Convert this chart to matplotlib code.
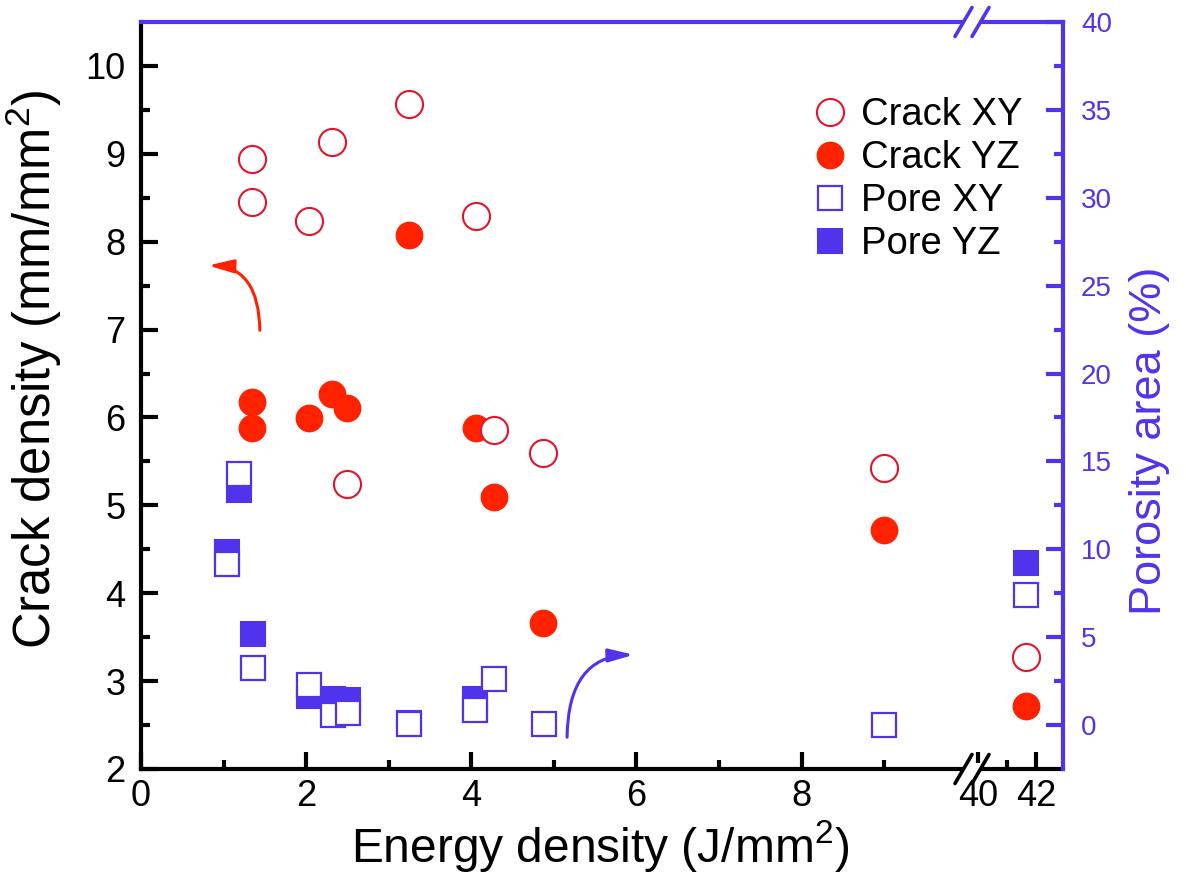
import numpy as np
import matplotlib
matplotlib.use('Agg')
import matplotlib.pyplot as plt
from matplotlib.lines import Line2D
from matplotlib.patches import FancyArrowPatch, Rectangle
from matplotlib.ticker import FixedLocator

plt.rcParams['font.family'] = ['Liberation Sans', 'DejaVu Sans']
plt.rcParams['mathtext.fontset'] = 'custom'
plt.rcParams['mathtext.rm'] = 'Liberation Sans'

RED = '#ff2200'
RED_EDGE = '#e3142a'
BLUE = '#5034ec'

# crack density (left axis, mm/mm^2)
crack_x = [1.35, 1.35, 2.03, 2.31, 2.50, 3.25, 4.06, 4.27, 4.87, 9.0, 41.67]
crack_xy = [8.94, 8.45, 8.23, 9.13, 5.24, 9.57, 8.29, 5.86, 5.60, 5.43, 3.27]
crack_yz = [6.18, 5.88, 5.99, 6.27, 6.11, 8.08, 5.88, 5.10, 3.66, 4.72, 2.72]

# porosity area (right axis, %)
pore_xy_x = [1.04, 1.19, 1.36, 2.03, 2.32, 2.51, 3.24, 4.05, 4.27, 4.88, 9.0, 41.67]
pore_xy = [9.16, 14.3, 3.26, 2.26, 0.55, 0.70, 0.05, 0.84, 2.64, 0.06, 0.0, 7.4]
pore_yz_x = [1.04, 1.19, 1.36, 2.03, 2.32, 2.51, 3.24, 4.05, 41.67]
pore_yz = [9.86, 13.35, 5.16, 1.66, 1.48, 1.42, 0.13, 1.48, 9.2]

# broken x axis: 0..B1 normal, B2.. compressed
B1, B2, R = 10.07, 39.81, 29 / 82.5


def fwd(x):
    x = np.asarray(x, dtype=float)
    return np.where(x <= B1, x, np.where(x >= B2, B1 + (x - B2) * R, B1))


def inv(y):
    y = np.asarray(y, dtype=float)
    return np.where(y <= B1, y, B2 + (y - B1) / R)


fig = plt.figure(figsize=(11.86, 8.81), dpi=100)
ax = fig.add_axes([141 / 1186, 1 - 769 / 881, 922 / 1186, 747 / 881])
ax.set_xscale('function', functions=(fwd, inv))
ax.set_xlim(0, 42.93)
ax.set_ylim(2, 10.5)
ax2 = ax.twinx()
ax2.set_ylim(-2.5, 40)

ax.plot(crack_x, crack_yz, 'o', ms=20, mfc=RED, mec=RED, mew=0, zorder=3,
        label='Crack YZ')
ax.plot(crack_x, crack_xy, 'o', ms=19.5, mfc='white', mec=RED_EDGE, mew=1.5,
        zorder=4, label='Crack XY')
ax2.plot(pore_yz_x, pore_yz, 's', ms=17.5, mfc=BLUE, mec=BLUE, mew=1.5,
         zorder=3, label='Pore YZ')
ax2.plot(pore_xy_x, pore_xy, 's', ms=17, mfc='white', mec=BLUE, mew=1.6,
         zorder=4, label='Pore XY')

# spines and ticks
for s in ('top', 'right'):
    ax.spines[s].set_visible(False)
for s in ('left', 'bottom'):
    ax.spines[s].set_linewidth(3)
    ax2.spines[s].set_visible(False)
for s in ('top', 'right'):
    ax2.spines[s].set_linewidth(3)
    ax2.spines[s].set_color(BLUE)

ax.xaxis.set_major_locator(FixedLocator([0, 2, 4, 6, 8, 40, 42]))
ax.xaxis.set_minor_locator(FixedLocator([1, 3, 5, 7, 9, 41]))
ax.set_xticklabels(['0', '2', '4', '6', '8', '40', '42'])
ax.yaxis.set_major_locator(FixedLocator([2, 3, 4, 5, 6, 7, 8, 9, 10]))
ax.yaxis.set_minor_locator(FixedLocator(np.arange(2.5, 10.5, 1.0)))
ax.tick_params(which='both', direction='in', width=3, labelsize=26,
               top=False, right=False)
ax.tick_params(which='major', length=12)
ax.tick_params(which='minor', length=6.5)
ax.tick_params(axis='y', pad=11)
ax.tick_params(axis='x', pad=7.5)

ax2.yaxis.set_major_locator(FixedLocator(np.arange(0, 41, 5)))
ax2.yaxis.set_minor_locator(FixedLocator(np.arange(2.5, 40, 5)))
ax2.tick_params(which='both', direction='in', width=3, labelsize=20,
                color=BLUE, labelcolor=BLUE, pad=13)
ax2.tick_params(which='major', length=12)
ax2.tick_params(which='minor', length=6.5)

ax.set_xlabel('Energy density (J/mm$^2$)', fontsize=34.5)
ax.xaxis.set_label_coords(0.498, -0.066)
ax.set_ylabel('Crack density (mm/mm$^2$)', fontsize=36.5)
ax.yaxis.set_label_coords(-0.083, 0.535)
ax2.set_ylabel('Porosity area (%)', fontsize=32.5, color=BLUE)
ax2.yaxis.set_label_coords(1.072, 0.44)

# axis break marks on bottom and top spines
bx = (972 - 141) / 922
dx, dy, off = 8.5 / 922, 14.5 / 747, 8.5 / 922
for yb, col in ((0.0, 'black'), (1.0, BLUE)):
    ax2.add_patch(Rectangle((bx - off, yb - 0.008), 2 * off, 0.016,
                            transform=ax2.transAxes, facecolor='white',
                            edgecolor='none', clip_on=False, zorder=9))
    for c in (bx - off, bx + off):
        ax2.add_line(Line2D([c - dx, c + dx], [yb - dy, yb + dy],
                            transform=ax2.transAxes, color=col, lw=2.6,
                            clip_on=False, zorder=10, solid_capstyle='round'))

# curved arrows pointing to each axis
arrow_style = '-|>,head_length=0.75,head_width=0.2'
ax.add_patch(FancyArrowPatch((1.44, 6.96), (0.78, 7.73),
                             connectionstyle='angle3,angleA=90,angleB=0',
                             arrowstyle=arrow_style, color=RED, lw=2.2,
                             mutation_scale=20, zorder=5))
ax.add_patch(FancyArrowPatch((5.16, 2.33), (6.0, 3.30),
                             connectionstyle='angle3,angleA=90,angleB=0',
                             arrowstyle=arrow_style, color=BLUE, lw=2.2,
                             mutation_scale=20, zorder=5))

h1, l1 = ax.get_legend_handles_labels()
h2, l2 = ax2.get_legend_handles_labels()
handles = [h1[1], h1[0], h2[1], h2[0]]
labels = [l1[1], l1[0], l2[1], l2[0]]
ax2.legend(handles, labels, loc='upper left', bbox_to_anchor=(0.727, 0.899),
           frameon=False, fontsize=27.5, handlelength=1.0, handletextpad=0.3,
           labelspacing=0.18, borderaxespad=0, borderpad=0)

fig.savefig('out.png', dpi=100)
